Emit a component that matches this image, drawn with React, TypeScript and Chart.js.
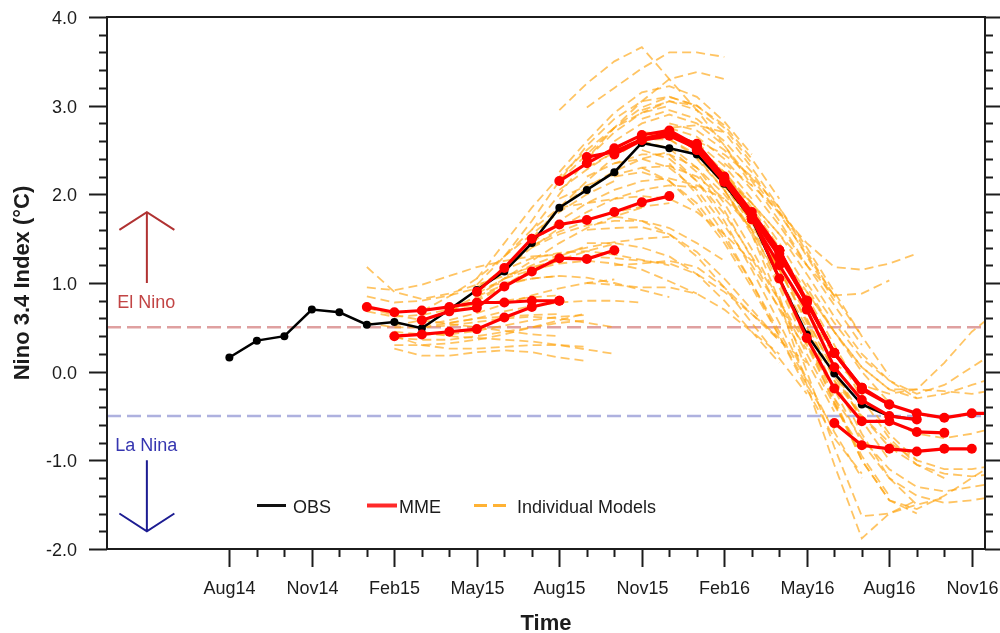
import React, { useEffect, useRef } from 'react';
import { Chart, registerables } from 'chart.js';

Chart.register(...registerables);

// Month index on the x axis: 0 = Aug14, 1 = Sep14, ... 27 = Nov16
const X_MIN = -4.45;
const X_MAX = 27.48;
const TICK_LABELS = ['Aug14', 'Nov14', 'Feb15', 'May15', 'Aug15', 'Nov15', 'Feb16', 'May16', 'Aug16', 'Nov16'];
const Y_MIN = -2;
const Y_MAX = 4;

const EL_NINO_THRESHOLD = 0.5;
const LA_NINA_THRESHOLD = -0.5;

// Observations (monthly, from Aug14)
const OBS_START = 0;
const OBS_VALUES = [0.16, 0.35, 0.40, 0.70, 0.67, 0.53, 0.56, 0.49, 0.70, 0.92, 1.13, 1.45, 1.85, 2.05, 2.25, 2.58, 2.52, 2.45, 2.12, 1.72, 1.05, 0.42, -0.02, -0.37, -0.50, -0.54];

// Multi-model ensemble forecasts: start month index and values
const MME_START = [5, 6, 7, 9, 12, 13, 14, 15, 16, 17, 18, 19, 21, 22];
const MME_VALUES = [
  [0.73, 0.67, 0.69, 0.73, 0.78, 0.78, 0.80, 0.80],
  [0.40, 0.42, 0.45, 0.48, 0.61, 0.73, 0.80],
  [0.58, 0.68, 0.72, 0.96, 1.13, 1.28, 1.27, 1.37],
  [0.90, 1.17, 1.50, 1.66, 1.71, 1.80, 1.91, 1.98],
  [2.15, 2.35, 2.52, 2.67, 2.72, 2.55, 2.18, 1.75],
  [2.42, 2.48, 2.62, 2.68, 2.57, 2.20, 1.80, 1.37],
  [2.45, 2.61, 2.66, 2.52, 2.17, 1.75, 1.30, 0.80],
  [2.62, 2.70, 2.50, 2.15, 1.72, 1.37, 0.78, 0.21],
  [2.67, 2.55, 2.15, 1.75, 1.37, 0.80, 0.21, -0.18],
  [2.50, 2.14, 1.75, 1.33, 0.78, 0.21, -0.18, -0.37],
  [2.16, 1.72, 1.20, 0.70, 0.05, -0.32, -0.50, -0.54],
  [1.75, 1.05, 0.38, -0.19, -0.56, -0.56, -0.68, -0.69],
  [0.80, 0.21, -0.20, -0.37, -0.47, -0.52, -0.47, -0.47],
  [-0.58, -0.83, -0.87, -0.90, -0.87, -0.87],
];

// Individual model forecasts, grouped by start month
const MODELS_JAN15 = [
  [1.18, 0.90, 0.82, 0.88, 0.98, 1.08, 1.18, 1.25],
  [0.85, 0.78, 0.80, 0.86, 0.94, 1.00, 1.05, 1.08],
  [0.68, 0.62, 0.64, 0.70, 0.76, 0.80, 0.84, 0.86],
  [0.55, 0.50, 0.50, 0.55, 0.60, 0.62, 0.64, 0.65],
  [0.72, 0.64, 0.58, 0.54, 0.50, 0.46, 0.42, 0.40],
  [0.95, 0.92, 0.98, 1.08, 1.18, 1.25, 1.30, 1.32],
];
const MODELS_FEB15 = [
  [0.52, 0.58, 0.68, 0.82, 0.98, 1.15, 1.30, 1.42],
  [0.38, 0.36, 0.36, 0.40, 0.45, 0.50, 0.55, 0.58],
  [0.26, 0.18, 0.18, 0.22, 0.24, 0.22, 0.16, 0.12],
  [0.45, 0.42, 0.42, 0.46, 0.52, 0.58, 0.62, 0.64],
  [0.30, 0.30, 0.32, 0.36, 0.42, 0.50, 0.58, 0.66],
  [0.40, 0.30, 0.26, 0.26, 0.28, 0.30, 0.30, 0.28],
];
const MODELS_MAR15 = [
  [0.68, 0.85, 1.05, 1.30, 1.55, 1.80, 2.00, 2.15],
  [0.58, 0.68, 0.80, 0.96, 1.12, 1.26, 1.36, 1.44],
  [0.52, 0.58, 0.66, 0.76, 0.86, 0.94, 1.00, 1.04],
  [0.50, 0.52, 0.56, 0.60, 0.62, 0.60, 0.55, 0.50],
  [0.45, 0.40, 0.38, 0.36, 0.34, 0.30, 0.25, 0.20],
];
const MODELS_APR15 = [
  [0.70, 0.85, 1.05, 1.25, 1.45, 1.62, 1.75, 1.85],
  [0.55, 0.60, 0.68, 0.74, 0.78, 0.80, 0.80, 0.78],
];
const MODELS_MAY15 = [
  [1.05, 1.45, 1.85, 2.20, 2.50, 2.75, 2.92, 3.00],
  [0.98, 1.30, 1.60, 1.85, 2.08, 2.26, 2.40, 2.48],
  [0.92, 1.18, 1.42, 1.58, 1.70, 1.80, 1.86, 1.90],
  [0.88, 1.05, 1.20, 1.32, 1.40, 1.46, 1.50, 1.52],
  [0.95, 1.15, 1.28, 1.34, 1.36, 1.32, 1.26, 1.20],
  [0.85, 0.98, 1.05, 1.08, 1.06, 1.00, 0.92, 0.84],
];
const MODELS_JUN15 = [
  [1.30, 1.70, 2.15, 2.55, 2.85, 3.05, 3.10, 3.00],
  [1.15, 1.40, 1.62, 1.80, 1.95, 2.05, 2.10, 2.08],
  [1.05, 1.15, 1.22, 1.25, 1.22, 1.15, 1.02, 0.88],
];
const MODELS_JUL15 = [
  [1.60, 2.00, 2.40, 2.75, 3.05, 3.30, 3.38, 3.30],
  [1.50, 1.85, 2.15, 2.42, 2.62, 2.75, 2.78, 2.70],
  [1.45, 1.70, 1.90, 2.05, 2.15, 2.18, 2.10, 1.95],
  [1.40, 1.55, 1.65, 1.70, 1.70, 1.62, 1.45, 1.25],
];
const MODELS_AUG15 = [
  [2.15, 2.45, 2.75, 2.98, 3.10, 3.00, 2.75, 2.35],
  [2.05, 2.28, 2.48, 2.62, 2.68, 2.58, 2.32, 1.95],
  [1.95, 2.10, 2.22, 2.30, 2.32, 2.20, 1.95, 1.62],
  [2.25, 2.60, 2.92, 3.15, 3.22, 3.10, 2.82, 2.45],
  [1.85, 1.90, 1.95, 1.98, 1.95, 1.80, 1.55, 1.25],
  [2.95, 3.25, 3.50, 3.66, 3.30, 2.95, 2.55, 2.10],
];
const MODELS_SEP15 = [
  [2.40, 2.70, 2.92, 3.05, 3.00, 2.78, 2.40, 1.95],
  [2.30, 2.48, 2.62, 2.68, 2.55, 2.25, 1.85, 1.40],
  [2.20, 2.35, 2.45, 2.45, 2.30, 2.00, 1.60, 1.15],
  [1.30, 1.28, 1.25, 1.22, 1.10, 0.90, 0.65, 0.38],
  [1.60, 1.62, 1.63, 1.55, 1.35, 1.05, 0.70, 0.35],
  [1.00, 0.98, 0.95, 0.95, 0.88, 0.70, 0.45, 0.20],
  [1.45, 1.45, 1.40, 1.30, 1.10, 0.80, 0.45, 0.10],
  [2.98, 3.20, 3.42, 3.60, 3.60, 3.55],
];
const MODELS_OCT15 = [
  [2.60, 2.80, 2.90, 2.80, 2.55, 2.15, 1.70, 1.20],
  [2.50, 2.62, 2.62, 2.45, 2.10, 1.65, 1.15, 0.65],
  [2.35, 2.40, 2.30, 2.05, 1.65, 1.20, 0.72, 0.25],
  [1.20, 1.22, 1.25, 1.18, 0.95, 0.65, 0.35, 0.10],
  [2.20, 2.25, 2.15, 1.90, 1.50, 1.00, 0.45, -0.10],
  [1.75, 1.70, 1.55, 1.30, 0.95, 0.55, 0.15, -0.25],
];
const MODELS_NOV15 = [
  [2.85, 2.95, 2.85, 2.60, 2.25, 1.80, 1.30, 0.80],
  [2.70, 2.68, 2.50, 2.15, 1.70, 1.20, 0.68, 0.18],
  [2.50, 2.40, 2.15, 1.78, 1.30, 0.80, 0.30, -0.20],
  [2.60, 2.52, 2.25, 1.82, 1.28, 0.70, 0.12, -0.45],
  [2.30, 2.15, 1.85, 1.45, 0.95, 0.40, -0.15, -0.65],
  [2.95, 3.05, 2.95, 2.70, 2.30, 1.85, 1.35, 0.85],
];
const MODELS_DEC15 = [
  [2.80, 2.72, 2.50, 2.18, 1.78, 1.32, 0.85, 0.40],
  [2.62, 2.42, 2.05, 1.58, 1.05, 0.50, -0.05, -0.52],
  [2.55, 2.30, 1.90, 1.38, 0.80, 0.20, -0.38, -0.88],
  [2.45, 2.15, 1.70, 1.15, 0.55, -0.08, -0.68, -1.20],
  [2.35, 2.00, 1.55, 1.00, 0.40, -0.20, -0.75, -1.15],
  [2.75, 2.65, 2.40, 2.05, 1.65, 1.20, 0.75, 0.30],
];
const MODELS_JAN16 = [
  [2.45, 2.20, 1.90, 1.55, 1.20, 0.86, 0.88, 1.03],
  [2.45, 2.12, 1.68, 1.15, 0.58, 0.00, -0.55, -1.00],
  [2.40, 2.05, 1.55, 0.95, 0.30, -0.35, -0.95, -1.40],
  [2.50, 2.25, 1.90, 1.45, 0.95, 0.45, 0.00, -0.35],
  [2.60, 2.45, 2.20, 1.85, 1.40, 0.90, 0.40, -0.05],
];
const MODELS_FEB16 = [
  [2.35, 2.10, 1.80, 1.45, 1.18, 1.15, 1.22, 1.33],
  [2.15, 1.80, 1.35, 0.85, 0.30, -0.25, -0.70, -1.00],
  [2.10, 1.70, 1.15, 0.55, -0.10, -0.70, -1.20, -1.50],
  [2.20, 1.90, 1.55, 1.10, 0.62, 0.20, -0.10, -0.30],
  [2.05, 1.60, 1.00, 0.35, -0.35, -1.00, -1.45, -1.60],
];
const MODELS_MAR16 = [
  [1.75, 1.30, 0.80, 0.25, -0.30, -0.75, -1.05, -1.20],
  [1.55, 0.80, -0.15, -1.05, -1.88, -1.60, -1.45],
];
const MODELS_APR16 = [
  [1.35, 0.90, 0.45, 0.05, -0.20, -0.20, 0.10, 0.45, 0.70],
  [0.85, 0.00, -0.85, -1.63, -1.60, -1.50, -1.42],
];
const MODELS_MAY16 = [
  [0.50, -0.20, -0.80, -1.20, -1.40, -1.48, -1.45, -1.40],
  [0.60, 0.00, -0.50, -0.85, -1.05, -1.15, -1.18, -1.15],
  [0.40, -0.30, -1.00, -1.45, -1.55, -1.40, -1.20, -1.00],
  [0.90, 0.45, 0.05, -0.20, -0.30, -0.25, -0.15, -0.05],
  [1.00, 0.55, 0.15, -0.10, -0.25, -0.15, 0.05, 0.25],
];
const MODELS_JUN16 = [
  [-0.10, -0.50, -0.80, -1.00, -1.10, -1.10, -1.05],
  [0.05, -0.30, -0.55, -0.70, -0.75, -0.70, -0.62],
  [-0.30, -0.75, -1.10, -1.30, -1.35, -1.30, -1.25],
  [0.10, -0.15, -0.25, -0.20, -0.22, -0.25, -0.20],
];

const MODEL_GROUPS: [number, number[][]][] = [
  [5, MODELS_JAN15], [6, MODELS_FEB15], [7, MODELS_MAR15], [8, MODELS_APR15], [9, MODELS_MAY15],
  [10, MODELS_JUN15], [11, MODELS_JUL15], [12, MODELS_AUG15], [13, MODELS_SEP15],
  [14, MODELS_OCT15], [15, MODELS_NOV15], [16, MODELS_DEC15], [17, MODELS_JAN16],
  [18, MODELS_FEB16], [19, MODELS_MAR16], [20, MODELS_APR16], [21, MODELS_MAY16],
  [22, MODELS_JUN16],
];

const FONT = '"Liberation Sans", Arial, Helvetica, sans-serif';
const INK = '#1c1c1c';
const ORANGE = 'rgba(255,165,15,0.65)';

const toPoints = (start: number, values: number[]) => values.map((v, i) => ({ x: start + i, y: v }));

const nclPlugin = {
  id: 'nclDecor',
  beforeDatasetsDraw(chart: any) {
    const { ctx, chartArea: a, scales } = chart;
    const y = scales.y;
    ctx.save();
    ctx.beginPath();
    ctx.rect(a.left, a.top, a.right - a.left, a.bottom - a.top);
    ctx.clip();
    ctx.setLineDash([14, 6]);
    ctx.lineWidth = 2.5;
    ctx.strokeStyle = 'rgba(220,150,150,0.9)';
    const ye = y.getPixelForValue(EL_NINO_THRESHOLD);
    ctx.beginPath(); ctx.moveTo(a.left, ye); ctx.lineTo(a.right, ye); ctx.stroke();
    ctx.strokeStyle = 'rgba(165,168,220,0.9)';
    const yl = y.getPixelForValue(LA_NINA_THRESHOLD);
    ctx.beginPath(); ctx.moveTo(a.left, yl); ctx.lineTo(a.right, yl); ctx.stroke();
    ctx.restore();
  },
  afterDraw(chart: any) {
    const { ctx, chartArea: a, scales } = chart;
    const x = scales.x;
    const y = scales.y;
    ctx.save();
    // frame
    ctx.strokeStyle = INK;
    ctx.lineWidth = 2;
    ctx.strokeRect(a.left, a.top, a.right - a.left, a.bottom - a.top);

    // y ticks (left outward, right outward)
    ctx.lineWidth = 2;
    for (let i = 0; i <= 30; i++) {
      const v = Y_MIN + i * 0.2;
      const py = Math.round(y.getPixelForValue(v)) + 0.5;
      const major = i % 5 === 0;
      const len = major ? 18 : 8;
      ctx.beginPath();
      ctx.moveTo(a.left, py); ctx.lineTo(a.left - len, py);
      ctx.moveTo(a.right, py); ctx.lineTo(a.right + (major ? 15 : 8), py);
      ctx.stroke();
      if (major) {
        ctx.fillStyle = INK;
        ctx.font = `18px ${FONT}`;
        ctx.textAlign = 'right';
        ctx.textBaseline = 'alphabetic';
        ctx.fillText(v.toFixed(1), a.left - 30, py + 6.5);
      }
    }
    // x ticks
    for (let m = 0; m <= 27; m++) {
      const px = Math.round(x.getPixelForValue(m)) + 0.5;
      const major = m % 3 === 0;
      ctx.beginPath();
      ctx.moveTo(px, a.bottom); ctx.lineTo(px, a.bottom + (major ? 18 : 8));
      ctx.stroke();
      if (major) {
        ctx.fillStyle = INK;
        ctx.font = `18px ${FONT}`;
        ctx.textAlign = 'center';
        ctx.textBaseline = 'alphabetic';
        ctx.fillText(TICK_LABELS[m / 3], px, a.bottom + 45);
      }
    }
    // titles
    ctx.fillStyle = INK;
    ctx.font = `bold 22px ${FONT}`;
    ctx.textAlign = 'center';
    ctx.textBaseline = 'alphabetic';
    ctx.fillText('Time', (a.left + a.right) / 2, 630);
    ctx.save();
    ctx.translate(23, (a.top + a.bottom) / 2);
    ctx.rotate(-Math.PI / 2);
    ctx.textBaseline = 'middle';
    ctx.fillText('Nino 3.4 Index (°C)', 0, 0);
    ctx.restore();

    // El Nino / La Nina arrows
    const ax = x.getPixelForValue(-3);
    const axl = x.getPixelForValue(-4);
    const axr = x.getPixelForValue(-2);
    ctx.lineWidth = 2;
    ctx.strokeStyle = '#b03232';
    ctx.beginPath();
    ctx.moveTo(ax, y.getPixelForValue(1.0)); ctx.lineTo(ax, y.getPixelForValue(1.8));
    ctx.moveTo(axl, y.getPixelForValue(1.6)); ctx.lineTo(ax, y.getPixelForValue(1.8)); ctx.lineTo(axr, y.getPixelForValue(1.6));
    ctx.stroke();
    ctx.strokeStyle = '#1c1c92';
    ctx.beginPath();
    ctx.moveTo(ax, y.getPixelForValue(-1.0)); ctx.lineTo(ax, y.getPixelForValue(-1.8));
    ctx.moveTo(axl, y.getPixelForValue(-1.6)); ctx.lineTo(ax, y.getPixelForValue(-1.8)); ctx.lineTo(axr, y.getPixelForValue(-1.6));
    ctx.stroke();
    ctx.font = `18px ${FONT}`;
    ctx.textAlign = 'left';
    ctx.textBaseline = 'alphabetic';
    ctx.fillStyle = '#c24444';
    ctx.fillText('El Nino', x.getPixelForValue(-4.08), y.getPixelForValue(0.72));
    ctx.fillStyle = '#3535b0';
    ctx.fillText('La Nina', x.getPixelForValue(-4.15), y.getPixelForValue(-0.9));

    // legend
    const ly = 505.5;
    ctx.lineWidth = 3;
    ctx.setLineDash([]);
    ctx.strokeStyle = '#111';
    ctx.beginPath(); ctx.moveTo(257, ly); ctx.lineTo(286, ly); ctx.stroke();
    ctx.strokeStyle = '#ff2a2a';
    ctx.lineWidth = 4;
    ctx.beginPath(); ctx.moveTo(367, ly); ctx.lineTo(397, ly); ctx.stroke();
    ctx.strokeStyle = 'rgba(255,170,30,0.9)';
    ctx.lineWidth = 3;
    ctx.beginPath(); ctx.moveTo(474, ly); ctx.lineTo(487, ly); ctx.moveTo(493, ly); ctx.lineTo(506, ly); ctx.stroke();
    ctx.fillStyle = INK;
    ctx.font = `18px ${FONT}`;
    ctx.fillText('OBS', 293, 512.5);
    ctx.fillText('MME', 399, 512.5);
    ctx.fillText('Individual Models', 517, 512.5);
    ctx.restore();
  },
};

export default function App() {
  const canvasRef = useRef<HTMLCanvasElement | null>(null);

  useEffect(() => {
    document.body.style.margin = '0';
    const canvas = canvasRef.current;
    if (!canvas) return;

    const datasets: any[] = [];
    MME_START.forEach((s, i) => {
      datasets.push({
        label: 'MME',
        data: toPoints(s, MME_VALUES[i]),
        borderColor: '#ff0000',
        backgroundColor: '#ff0000',
        borderWidth: 3.2,
        pointRadius: 5,
        pointBorderWidth: 0,
        pointBackgroundColor: '#ff0000',
        order: 1,
      });
    });
    datasets.push({
      label: 'OBS',
      data: toPoints(OBS_START, OBS_VALUES),
      borderColor: '#000000',
      backgroundColor: '#000000',
      borderWidth: 2.5,
      pointRadius: 4,
      pointBorderWidth: 0,
      pointBackgroundColor: '#000000',
      order: 2,
    });
    MODEL_GROUPS.forEach(([s, group]) => {
      group.forEach((vals) => {
        datasets.push({
          label: 'Individual Models',
          data: toPoints(s, vals),
          borderColor: ORANGE,
          borderWidth: 1.8,
          borderDash: [9, 5],
          pointRadius: 0,
          order: 3,
        });
      });
    });

    const chart = new Chart(canvas, {
      type: 'line',
      data: { datasets },
      options: {
        responsive: false,
        animation: false,
        events: [],
        layout: { padding: { left: 0, right: 15, top: 17, bottom: 0 } },
        plugins: { legend: { display: false }, tooltip: { enabled: false } },
        elements: { line: { tension: 0, fill: false } },
        scales: {
          x: {
            type: 'linear',
            min: X_MIN,
            max: X_MAX,
            grid: { display: false },
            border: { display: false },
            ticks: { display: false },
            afterFit: (s: any) => { s.height = 84; },
          },
          y: {
            type: 'linear',
            min: Y_MIN,
            max: Y_MAX,
            grid: { display: false },
            border: { display: false },
            ticks: { display: false },
            afterFit: (s: any) => { s.width = 107; },
          },
        },
      },
      plugins: [nclPlugin],
    });
    return () => chart.destroy();
  }, []);

  return (
    <div style={{ width: 1000, height: 633, background: '#ffffff' }}>
      <canvas ref={canvasRef} width={1000} height={633} style={{ display: 'block' }} />
    </div>
  );
}
